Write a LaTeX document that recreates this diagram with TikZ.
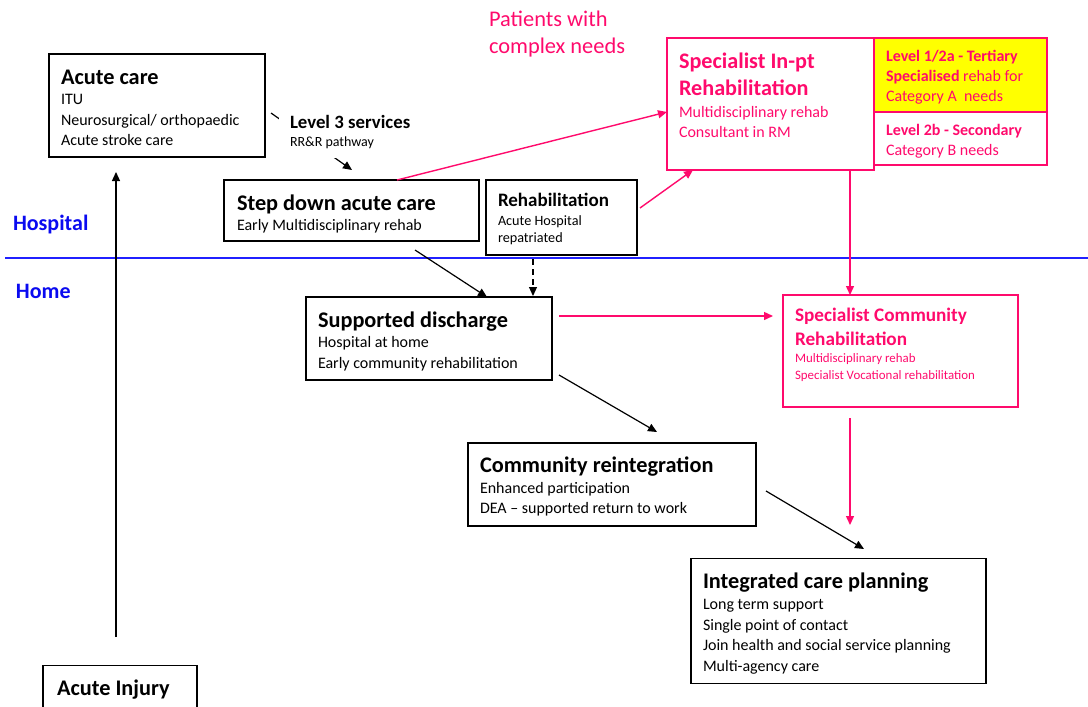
\documentclass[tikz,border=0pt]{standalone}
\usepackage{fontspec}
\setmainfont{Carlito}
\usetikzlibrary{arrows.meta}
\definecolor{pinkc}{HTML}{FF0A6C}
\definecolor{bluet}{HTML}{0A0AF0}
\definecolor{bluel}{HTML}{2020FF}
\definecolor{yel}{HTML}{FFFF00}
\newcommand\tline[2]{\baselineskip=#1pt\hbox{#2}}
\newcommand\fs[1]{\fontsize{#1}{#1}\selectfont}
\tikzset{
  box/.style={draw=black, line width=1.4pt, anchor=north west, inner sep=0pt, outer sep=0pt},
  pbox/.style={draw=pinkc, line width=1.8pt, anchor=north west, inner sep=0pt, outer sep=0pt},
  txt/.style={anchor=base west, inner sep=0pt, outer sep=0pt},
  arr/.style={line width=1.2pt, -{Triangle[length=9pt,width=8pt]}},
  parr/.style={draw=pinkc, line width=1.4pt, -{Triangle[length=9pt,width=8pt]}, color=pinkc},
}
\begin{document}
\begin{tikzpicture}[x=1pt,y=-1pt]
\useasboundingbox (0,0) rectangle (1088,707);
\lineskiplimit=-100pt
% hospital/home line
\coordinate (hl1) at (5,258);
\coordinate (hl2) at (1088,258);
\draw[bluel, line width=1.5pt] (hl1) -- (hl2);
\node[txt, text=bluet] (hosp) at (13,230) {\fs{22}\bfseries Hospital};
\node[txt, text=bluet] (home) at (16,298) {\fs{22}\bfseries Home};

% boxes
\node[box, minimum width=216, minimum height=103] (ac) at (49,54) {};
\node[txt] (acT) at (61,84) {\vtop{\fs{22.3}\bfseries\tline{0}{Acute care}\mdseries\fs{16}\tline{20.5}{ITU}\tline{20.7}{Neurosurgical/ orthopaedic}\tline{20.7}{Acute stroke care}}};

\node[box, minimum width=255, minimum height=61] (sd) at (224,180) {};
\node[txt] (sdT) at (237,210) {\vtop{\fs{22.3}\bfseries\tline{0}{Step down acute care}\mdseries\fs{16}\tline{20.7}{Early Multidisciplinary rehab}}};

\node[box, minimum width=151, minimum height=75] (rh) at (486,180) {};
\node[txt] (rhT) at (498,206.7) {\vtop{\fs{19}\bfseries\tline{0}{Rehabilitation}\mdseries\fs{14.2}\tline{18.6}{Acute Hospital}\tline{17.4}{repatriated}}};

\node[pbox, minimum width=207, minimum height=132] (sp) at (667,38) {};
\node[txt, text=pinkc] (spT) at (679,68.3) {\vtop{\fs{22.2}\bfseries\tline{0}{Specialist In-pt}\tline{26.7}{Rehabilitation}\mdseries\fs{16}\tline{22.3}{Multidisciplinary rehab}\tline{20.4}{Consultant in RM}}};

\node[pbox, fill=yel, minimum width=173, minimum height=74] (lv1) at (874,38) {};
\node[pbox, minimum width=173, minimum height=53] (lv2) at (874,112) {};
\node[txt, text=pinkc] (lv1T) at (886,61) {\vtop{\fs{16}\bfseries\tline{0}{Level 1/2a - Tertiary}\tline{20.7}{Specialised \mdseries rehab for}\mdseries\tline{20}{Category A\ \ needs}}};
\node[txt, text=pinkc] (lv2T) at (886,135) {\vtop{\fs{16}\bfseries\tline{0}{Level 2b - Secondary}\mdseries\tline{20.7}{Category B needs}}};

\node[txt, text=pinkc] (pcn) at (489,26) {\vtop{\fs{22.4}\tline{0}{Patients with}\tline{27.3}{complex needs}}};

\node[box, minimum width=246, minimum height=83] (sdis) at (306,297) {};
\node[txt] (sdisT) at (318,327.3) {\vtop{\fs{22.3}\bfseries\tline{0}{Supported discharge}\mdseries\fs{16}\tline{20}{Hospital at home}\tline{21}{Early community rehabilitation}}};

\node[pbox, minimum width=235, minimum height=112] (sc) at (783,295) {};
\node[txt, text=pinkc] (scT) at (795,321.7) {\vtop{\fs{19.2}\bfseries\tline{0}{Specialist Community}\tline{23.3}{Rehabilitation}\mdseries\fs{12.9}\tline{17.5}{Multidisciplinary rehab}\tline{17}{Specialist Vocational rehabilitation}}};

\node[box, minimum width=288, minimum height=83] (cr) at (468,443) {};
\node[txt] (crT) at (480,472) {\vtop{\fs{22.3}\bfseries\tline{0}{Community reintegration}\mdseries\fs{16}\tline{21.3}{Enhanced participation}\tline{20}{DEA -- supported return to work}}};

\node[box, minimum width=295, minimum height=125] (icp) at (691,558.5) {};
\node[txt] (icpT) at (703,588.3) {\vtop{\fs{22.3}\bfseries\tline{0}{Integrated care planning}\mdseries\fs{16}\tline{21}{Long term support}\tline{20.7}{Single point of contact}\tline{20.3}{Join health and social service planning}\tline{20.7}{Multi-agency care}}};

\node[box, minimum width=154, minimum height=60] (ai) at (43,665.5) {};
\node[txt] (aiT) at (57,695.7) {\fs{22.3}\bfseries Acute Injury};

% connectors
\coordinate (aiup) at (116,637);
\coordinate (acdn) at (116,172);
\draw[arr] (aiup) -- (acdn);

\coordinate (l3s) at (271,113);
\coordinate (l3e) at (352,170);
\draw[arr] (l3s) -- (l3e);
\node[txt, fill=white, inner xsep=11pt, inner ysep=9pt] (l3) at (279,128.3) {\vtop{\fs{18.8}\bfseries\tline{0}{Level 3 services}\mdseries\fs{14}\tline{18.4}{RR\&R pathway}}};

\coordinate (sds) at (415,250);
\coordinate (sde) at (487,297);
\draw[arr] (sds) -- (sde);

\coordinate (rhs) at (533,259);
\coordinate (rhe) at (533,296);
\draw[arr, dash pattern=on 6pt off 4pt] (rhs) -- (rhe);

\coordinate (sdp) at (397,180);
\coordinate (spin) at (667,112);
\draw[parr] (sdp) -- (spin);

\coordinate (rhp) at (640,208);
\coordinate (spb) at (693,170);
\draw[parr] (rhp) -- (spb);

\coordinate (spd) at (850,169);
\coordinate (scu) at (850,295);
\draw[parr] (spd) -- (scu);

\coordinate (sdr) at (559,316);
\coordinate (scl) at (773,316);
\draw[parr] (sdr) -- (scl);

\coordinate (scd) at (850,418);
\coordinate (icu) at (850,525);
\draw[parr] (scd) -- (icu);

\coordinate (sdc) at (559,375);
\coordinate (crt) at (657,432);
\draw[arr] (sdc) -- (crt);

\coordinate (crr) at (766,491);
\coordinate (ict) at (864,549);
\draw[arr] (crr) -- (ict);
\end{tikzpicture}
\end{document}
